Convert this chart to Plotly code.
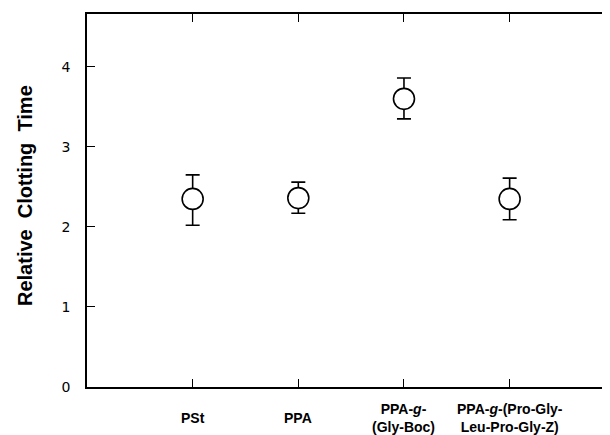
import plotly.graph_objects as go

categories = ["PSt", "PPA", "PPA-<i>g</i>-<br>(Gly-Boc)", "PPA-<i>g</i>-(Pro-Gly-<br>Leu-Pro-Gly-Z)"]
positions = [1, 2, 3, 4]
values = [2.35, 2.36, 3.60, 2.35]
err_plus = [0.30, 0.20, 0.26, 0.26]
err_minus = [0.33, 0.19, 0.25, 0.26]
y_ticks = [0, 1, 2, 3, 4]

fig = go.Figure()
fig.add_trace(go.Scatter(
    x=positions, y=values, mode="markers",
    marker=dict(symbol="circle", size=21, color="white", line=dict(color="black", width=1.6)),
    error_y=dict(type="data", symmetric=False, array=err_plus, arrayminus=err_minus,
                 color="black", thickness=1.6, width=7),
    showlegend=False, hoverinfo="skip",
))

for xv, lab in zip(positions, categories):
    fig.add_annotation(x=xv, xref="x", y=0, yref="paper", yshift=-31, yanchor="middle",
                       text=lab, showarrow=False,
                       font=dict(family="Liberation Sans", size=14, color="black", weight="bold"))

fig.add_annotation(x=-62/523, xref="paper", y=0.512, yref="paper", text="Relative  Clotting  Time",
                   textangle=-90, showarrow=False, xanchor="center", yanchor="middle",
                   font=dict(family="Liberation Sans", size=20, color="black", weight="bold"))

fig.update_xaxes(range=[0, 4.95], tickvals=positions, ticktext=["" for _ in positions],
                 showline=True, linecolor="black", linewidth=2, mirror="ticks",
                 ticks="inside", ticklen=8, tickwidth=1.3, tickcolor="black",
                 showgrid=False, zeroline=False, automargin=False)
fig.update_yaxes(range=[0, 4.66], tickvals=y_ticks,
                 showline=True, linecolor="black", linewidth=1.6,
                 ticks="inside", ticklen=8, tickwidth=1.3, tickcolor="black",
                 ticklabelstandoff=12,
                 tickfont=dict(family="DejaVu Sans", size=14, color="black"),
                 showgrid=False, zeroline=False, automargin=False)

# page body has an 8px default margin, so the figure is 8px smaller and offset
fig.update_layout(width=602, height=427, margin=dict(l=79, r=0, t=6, b=48, autoexpand=False),
                  plot_bgcolor="white", paper_bgcolor="white")
fig.write_html("out.html")
